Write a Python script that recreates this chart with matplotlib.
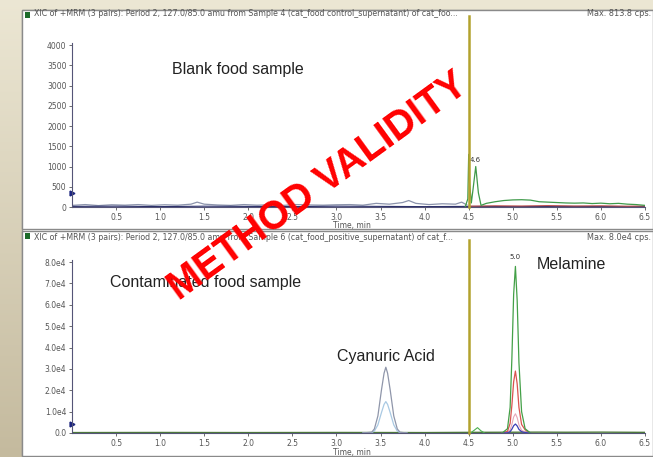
import numpy as np
import matplotlib.pyplot as plt
from matplotlib.patches import Rectangle

W, H = 653, 457

# ---- data ----
# top panel: blank food sample (cps)
top_gray_t = [0.0, 0.15, 0.3, 0.45, 0.6, 0.75, 0.9, 1.05, 1.2, 1.35, 1.42, 1.5, 1.65, 1.8, 1.95,
              2.1, 2.25, 2.4, 2.55, 2.7, 2.85, 3.0, 3.15, 3.3, 3.45, 3.6, 3.75, 3.82, 3.9, 4.05,
              4.2, 4.35, 4.42, 4.48]
top_gray_v = [40, 60, 35, 55, 45, 60, 40, 55, 45, 70, 120, 70, 50, 40, 60,
              45, 55, 40, 60, 50, 45, 55, 60, 45, 90, 70, 110, 160, 90, 60,
              80, 70, 120, 50]
top_navy_t = [0.0, 0.5, 1.0, 1.5, 2.0, 2.5, 3.0, 3.5, 4.0, 4.5, 5.0, 5.5, 6.0, 6.5]
top_navy_v = [15, 20, 10, 20, 15, 10, 20, 15, 10, 15, 10, 15, 10, 10]
top_green_t = [4.46, 4.49, 4.50, 4.51, 4.53, 4.55, 4.58, 4.61, 4.64, 4.70, 4.80, 4.90, 5.00,
               5.10, 5.20, 5.30, 5.40, 5.50, 5.60, 5.70, 5.80, 5.90, 6.00, 6.10, 6.20, 6.30,
               6.40, 6.50]
top_green_v = [0, 200, 1300, 600, 100, 450, 1000, 350, 40, 90, 130, 160, 175,
               180, 170, 130, 120, 110, 100, 95, 100, 85, 95, 80, 90, 70,
               60, 40]
top_red_t = [4.5, 4.8, 5.1, 5.4, 5.7, 6.0, 6.3, 6.5]
top_red_v = [20, 30, 25, 35, 25, 30, 20, 25]

# bottom panel: contaminated food sample (cps)
cya_t = [3.30, 3.40, 3.43, 3.47, 3.51, 3.54, 3.56, 3.58, 3.61, 3.65, 3.69, 3.72, 3.80]
cya_gray = [0, 400, 1900, 8000, 20000, 28000, 30800, 28000, 20000, 8000, 1900, 400, 0]
cya_blue = [0, 200, 900, 3800, 9500, 13400, 14700, 13400, 9500, 3800, 900, 200, 0]
mel_t = [4.88, 4.94, 4.97, 4.99, 5.01, 5.03, 5.05, 5.07, 5.10, 5.14, 5.20]
mel_green = [0, 2000, 12000, 35000, 65000, 78000, 62000, 33000, 10000, 2000, 0]
mel_red = [0, 800, 4500, 13000, 24000, 29000, 23000, 12000, 4000, 1500, 0]
mel_pink = [0, 300, 1500, 4000, 7500, 9000, 7200, 3800, 1300, 400, 0]
mel_blue = [0, 100, 600, 1800, 3400, 4200, 3300, 1700, 600, 200, 0]
bump_t = [4.52, 4.56, 4.60, 4.64, 4.68]
bump_green = [0, 1200, 2500, 1000, 0]
base_t = [0.0, 1.0, 2.0, 3.0, 4.0, 4.5, 5.3, 5.6, 6.0, 6.5]
base_v = [200, 250, 200, 250, 200, 300, 400, 350, 400, 300]

x_ticks = [0.5, 1.0, 1.5, 2.0, 2.5, 3.0, 3.5, 4.0, 4.5, 5.0, 5.5, 6.0, 6.5]
top_yticks = [0, 500, 1000, 1500, 2000, 2500, 3000, 3500, 4000]
bot_yticks = [0, 10000, 20000, 30000, 40000, 50000, 60000, 70000, 80000]
bot_ylabels = ['0.0', '1.0e4', '2.0e4', '3.0e4', '4.0e4', '5.0e4', '6.0e4', '7.0e4', '8.0e4']

titles = ['XIC of +MRM (3 pairs): Period 2, 127.0/85.0 amu from Sample 4 (cat_food control_supernatant) of cat_foo...',
          'XIC of +MRM (3 pairs): Period 2, 127.0/85.0 amu from Sample 6 (cat_food_positive_supernatant) of cat_f...']
max_labels = ['Max. 813.8 cps.', 'Max. 8.0e4 cps.']


def fx(px):
    return px / W


def fy(py):
    return 1 - py / H


fig = plt.figure(figsize=(W / 100, H / 100), dpi=100)
arial = ['Liberation Sans', 'DejaVu Sans']

# beige slide background
bg = fig.add_axes([0, 0, 1, 1])
bg.set_zorder(-5)
grad = np.linspace(0, 1, 200)[:, None] * np.ones((1, 10))
c_top = np.array([0.925, 0.905, 0.83])
c_bot = np.array([0.77, 0.73, 0.62])
img = c_top[None, None, :] * (1 - grad[..., None]) + c_bot[None, None, :] * grad[..., None]
bg.imshow(img, aspect='auto', extent=[0, 1, 0, 1])
bg.set_axis_off()

# white window with two panels
fig.patches.append(Rectangle((fx(22), fy(456)), fx(653 - 22), 446 / H, transform=fig.transFigure,
                             facecolor='white', edgecolor='#999999', lw=1, zorder=-3))
for y0, y1 in [(10, 229), (231, 456)]:
    fig.patches.append(Rectangle((fx(22), fy(y1)), fx(653 - 22), (y1 - y0) / H, transform=fig.transFigure,
                                 facecolor='white', edgecolor='#8a8a8a', lw=1, zorder=-2))
    fig.patches.append(Rectangle((fx(25), fy(y0 + 8)), fx(5), 6 / H, transform=fig.transFigure,
                                 facecolor='#1d6b2a', edgecolor='none', zorder=-1))

ax1 = fig.add_axes([fx(72), fy(207), fx(645 - 72), 164 / H])
ax2 = fig.add_axes([fx(72), fy(433), fx(645 - 72), 173 / H])
panels = [ax1, ax2]

# top traces
ax1.plot(top_gray_t, top_gray_v, color='#8b93ab', lw=0.9)
ax1.plot(top_navy_t, top_navy_v, color='#2b2f6b', lw=0.8)
ax1.plot(top_red_t, top_red_v, color='#c0504d', lw=0.8)
ax1.plot(top_green_t, top_green_v, color='#3f9a4a', lw=0.9)
ax1.set_ylim(0, 4050)
ax1.set_yticks(top_yticks)
ax1.set_yticklabels([str(v) for v in top_yticks])
ax1.text(4.58, 1080, '4.6', fontsize=5, color='#333333', ha='center', va='bottom')
ax1.text(1.88, 3400, 'Blank food sample', fontsize=11.5, color='#222222', ha='center', va='center',
         family=arial)
ax1.plot([0], [345], marker='>', color='#1a237e', ms=3.5, clip_on=False)

# bottom traces
ax2.plot(base_t, base_v, color='#4d7a3a', lw=1.0)
ax2.plot(cya_t, cya_blue, color='#a9c9e3', lw=0.9)
ax2.plot(cya_t, cya_gray, color='#8f96aa', lw=0.9)
ax2.plot(bump_t, bump_green, color='#4caf50', lw=0.8)
ax2.plot(mel_t, mel_pink, color='#e6a7b7', lw=0.8)
ax2.plot(mel_t, mel_red, color='#d9534f', lw=0.9)
ax2.plot(mel_t, mel_blue, color='#3b3fb5', lw=0.9)
ax2.plot(mel_t, mel_green, color='#43a047', lw=0.9)
ax2.set_ylim(0, 81000)
ax2.set_yticks(bot_yticks)
ax2.set_yticklabels(bot_ylabels)
ax2.text(5.03, 81000, '5.0', fontsize=5, color='#333333', ha='center', va='bottom', clip_on=False)
ax2.text(1.52, 70600, 'Contaminated food sample', fontsize=11.5, color='#222222', ha='center', va='center',
         family=arial)
ax2.text(3.56, 36000, 'Cyanuric Acid', fontsize=11.5, color='#222222', ha='center', va='center',
         family=arial)
ax2.text(5.67, 79000, 'Melamine', fontsize=11.5, color='#222222', ha='center', va='center',
         family=arial)
ax2.plot([0], [4200], marker='>', color='#1a237e', ms=3.5, clip_on=False)

for ax, ymax in zip(panels, [1.165, 1.116]):
    ax.set_xlim(0, 6.5)
    ax.set_xticks(x_ticks)
    ax.set_xticklabels([f'{t:.1f}' for t in x_ticks])
    ax.axvline(4.5, ymin=0, ymax=ymax, color='#b3a22e', lw=1.8, clip_on=False, zorder=5)
    for s in ['top', 'right']:
        ax.spines[s].set_visible(False)
    for s in ['left', 'bottom']:
        ax.spines[s].set_color('#555577')
        ax.spines[s].set_linewidth(0.8)
    ax.tick_params(labelsize=5.5, colors='#555555', length=2, width=0.6, pad=2)
    ax.set_facecolor('none')
    ax.set_xlabel('Time, min', fontsize=5.5, color='#555555')
    ax.xaxis.set_label_coords(0.489, -0.085)

for y0, title, mx in zip([14, 238], titles, max_labels):
    fig.text(fx(34), fy(y0), title, fontsize=5.7, color='#555555', va='center', ha='left')
    fig.text(fx(651), fy(y0), mx, fontsize=5.9, color='#555555', va='center', ha='right')

# red overlay stamp
fig.text(fx(318), fy(186), 'METHOD VALIDITY', fontsize=28.5, fontweight='bold', color='#ff0000',
         family=arial, rotation=36, rotation_mode='anchor',
         ha='center', va='center', zorder=20)

fig.savefig('out.png', dpi=100)
